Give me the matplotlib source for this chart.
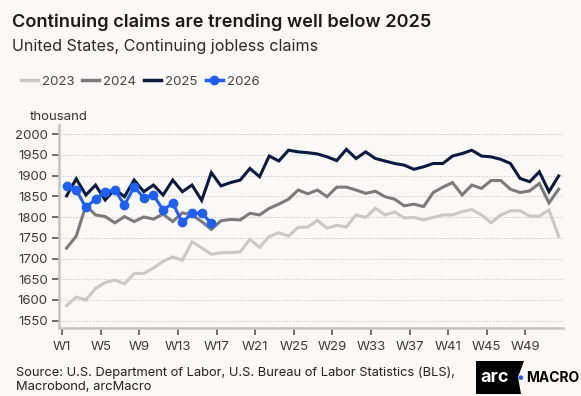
import numpy as np
import matplotlib.pyplot as plt
from matplotlib.lines import Line2D
from matplotlib.patches import Polygon

plt.rcParams['font.family'] = ['Inter', 'DejaVu Sans']

# Weekly continuing jobless claims, thousands
weeks = np.arange(1, 53)
claims_2023 = [1586, 1607, 1600, 1628, 1642, 1648, 1639, 1664, 1664, 1677,
               1693, 1704, 1696, 1740, 1726, 1710, 1714, 1714, 1716, 1746,
               1727, 1753, 1762, 1754, 1775, 1776, 1792, 1773, 1780, 1776,
               1805, 1799, 1821, 1805, 1812, 1798, 1799, 1793, 1799, 1805,
               1805, 1813, 1818, 1805, 1786, 1805, 1815, 1815, 1802, 1802,
               1817, 1753]
claims_2024 = [1725, 1754, 1828, 1805, 1801, 1786, 1801, 1789, 1800, 1795,
               1807, 1789, 1810, 1805, 1789, 1770, 1791, 1794, 1793, 1809,
               1805, 1821, 1831, 1843, 1865, 1856, 1865, 1849, 1872, 1872,
               1865, 1857, 1862, 1849, 1843, 1827, 1831, 1825, 1859, 1872,
               1883, 1853, 1877, 1869, 1888, 1888, 1867, 1859, 1863, 1881,
               1834, 1867]
claims_2025 = [1851, 1892, 1853, 1877, 1841, 1867, 1849, 1889, 1861, 1877,
               1853, 1889, 1861, 1877, 1840, 1907, 1875, 1883, 1889, 1917,
               1897, 1947, 1935, 1961, 1957, 1955, 1952, 1945, 1936, 1963,
               1941, 1957, 1941, 1935, 1929, 1925, 1915, 1921, 1929, 1929,
               1947, 1953, 1961, 1947, 1945, 1939, 1929, 1893, 1885, 1909,
               1861, 1899]
claims_2026 = [1875, 1865, 1823, 1843, 1861, 1865, 1829, 1872, 1847, 1853,
               1817, 1833, 1787, 1809, 1810, 1785]

tick_weeks = np.arange(1, 50, 4)
tick_labels = [f"W{w}" for w in tick_weeks]
y_ticks = np.arange(1550, 2001, 50)

c23, c24, c25, c26 = '#c9c9c9', '#7b7b7d', '#0c1a40', '#1f5ff2'
bg = '#fbf9f8'

fig = plt.figure(figsize=(5.81, 3.96), dpi=100, facecolor=bg)
ax = fig.add_axes([0.1015, 0.1717, 0.8675, 0.5126], facecolor=bg)

# data sits a little to the right of the week ticks
xs = weeks + 0.45
ax.plot(xs, claims_2023, color=c23, lw=2.2, solid_joinstyle='miter')
ax.plot(xs, claims_2024, color=c24, lw=2.2, solid_joinstyle='miter')
ax.plot(xs, claims_2025, color=c25, lw=2.2, solid_joinstyle='miter')
ax.plot(xs[:len(claims_2026)], claims_2026, color=c26, lw=2.2,
        marker='o', ms=6, mec=c26, mfc=c26)

ax.set_xlim(0.66, 52.9)
ax.set_ylim(1532.5, 2021.7)
ax.set_yticks(y_ticks)
ax.set_xticks(tick_weeks)
ax.set_xticklabels(tick_labels)
ax.grid(axis='y', color='#c8c8c8', lw=0.8, ls=(0, (1, 1.5)))
ax.set_axisbelow(True)
for s in ['top', 'right']:
    ax.spines[s].set_visible(False)
for s in ['left', 'bottom']:
    ax.spines[s].set_color('#c4c4c4')
    ax.spines[s].set_linewidth(1.8)
ax.tick_params(axis='both', colors='#555555', labelcolor='#3a3a3a',
               labelsize=9.5, length=5, width=1.2)
ax.tick_params(axis='y', pad=3)
ax.tick_params(axis='x', pad=4)

fig.text(0.052, 0.705, 'thousand', fontsize=9.5, color='#333333', ha='left', va='center')

fig.text(0.02, 0.945, 'Continuing claims are trending well below 2025',
         fontsize=13.1, fontweight='semibold', color='#1a1a1a', va='center')
fig.text(0.02, 0.882, 'United States, Continuing jobless claims',
         fontsize=11.6, color='#2a2a2a', va='center')

handles = [Line2D([], [], color=c23, lw=2.5),
           Line2D([], [], color=c24, lw=2.5),
           Line2D([], [], color=c25, lw=2.5),
           Line2D([], [], color=c26, lw=2.5, marker='o', ms=6)]
fig.legend(handles, ['2023', '2024', '2025', '2026'], loc='center left',
           bbox_to_anchor=(0.015, 0.793), ncol=4, frameon=False, fontsize=9.5,
           handlelength=1.3, handletextpad=0.3, columnspacing=0.6,
           labelcolor='#444444')

fig.text(0.028, 0.041, 'Source: U.S. Department of Labor, U.S. Bureau of Labor Statistics (BLS),\nMacrobond, arcMacro',
         fontsize=9.3, color='#222222', va='center', linespacing=1.3)

# arcMacro logo
px = lambda x, y: (x / 100, (396 - y) / 100)
logo = Polygon([px(476, 361), px(524, 361), px(518, 377), px(521, 394), px(476, 394)],
               closed=True, transform=fig.dpi_scale_trans, facecolor='black', edgecolor='none')
fig.patches.append(logo)
fig.text(495 / 581, 1 - 378 / 396, 'arc', fontsize=13, fontweight='bold',
         color='white', ha='center', va='center')
fig.text(520 / 581, 1 - 378 / 396, '\u25cf', fontsize=4.5, color=c26, ha='center', va='center')
fig.text(526 / 581, 1 - 378 / 396, 'MACRO', fontsize=10, fontweight='bold',
         color='black', ha='left', va='center')

fig.savefig('out.png', dpi=100, facecolor=bg)
